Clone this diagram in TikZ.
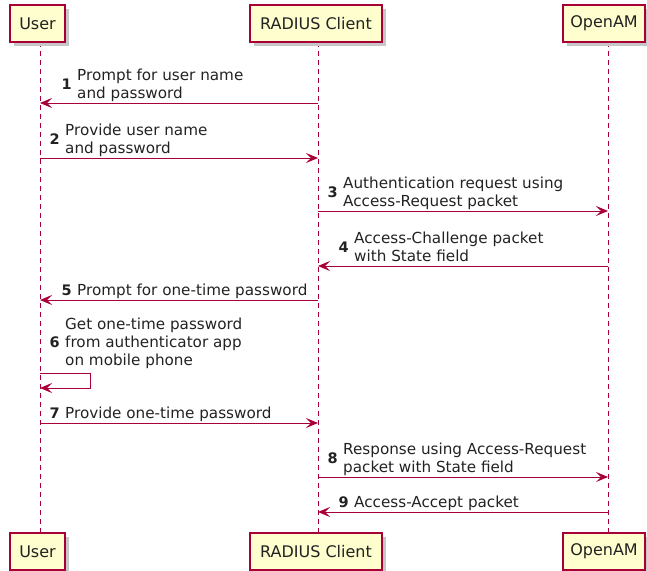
\documentclass[tikz,border=0pt]{standalone}
\usepackage{fontspec}
\newfontfamily\dv{DejaVu Sans}
\usetikzlibrary{arrows.meta,calc}
\definecolor{plborder}{HTML}{A80036}
\definecolor{plfill}{HTML}{FEFECE}
\definecolor{pltext}{HTML}{222222}
\tikzset{
  actor/.style={draw=plborder, fill=plfill, line width=1.2pt, minimum height=37pt, inner sep=0pt,
    font=\dv\fontsize{16}{19}\selectfont, text=pltext},
  shadowbox/.style={fill=black!22, draw=none},
  lifeline/.style={draw=plborder, line width=0.9pt, dash pattern=on 5pt off 4pt},
  msg/.style={draw=plborder, line width=1pt, -{Stealth[length=12pt,width=10pt,inset=5pt]}},
  msgtext/.style={font=\dv\fontsize{15.2}{18}\selectfont, text=pltext, align=left, inner sep=0pt, anchor=south west, yshift=-1.5pt},
  msgnum/.style={font=\dv\bfseries\fontsize{14.5}{18}\selectfont, text=pltext, inner sep=0pt, anchor=east}
}
\begin{document}
\begin{tikzpicture}[x=1pt,y=-1pt]
\useasboundingbox (0,0) rectangle (647,570);
% lifeline positions
\coordinate (xU) at (40,0);
\coordinate (xR) at (318,0);
\coordinate (xO) at (608,0);
% lifelines
\draw[lifeline] (xU |- 0,42) -- (xU |- 0,533);
\draw[lifeline] (xR |- 0,42) -- (xR |- 0,533);
\draw[lifeline] (xO |- 0,42) -- (xO |- 0,533);
% shadows
\fill[shadowbox] (14,9) rectangle (69,46);
\fill[shadowbox] (254,9) rectangle (386,46);
\fill[shadowbox] (567,9) rectangle (649,46);
\fill[shadowbox] (14,537) rectangle (69,574);
\fill[shadowbox] (254,537) rectangle (386,574);
\fill[shadowbox] (567,537) rectangle (649,574);
% participant boxes
\node[actor, minimum width=55pt] (uTop) at (37.5,23.5) {User};
\node[actor, minimum width=132pt] (rTop) at (316,23.5) {RADIUS Client};
\node[actor, minimum width=82pt] (oTop) at (604,23.5) {OpenAM};
\node[actor, minimum width=55pt] (uBot) at (37.5,551.5) {User};
\node[actor, minimum width=132pt] (rBot) at (316,551.5) {RADIUS Client};
\node[actor, minimum width=82pt] (oBot) at (604,551.5) {OpenAM};
% 1
\draw[msg] (xR |- 0,103) -- (xU |- 0,103);
\node[msgtext] (t1) at (77,103) {\strut Prompt for user name\\\strut and password};
\node[msgnum] (n1) at ([xshift=-5pt]t1.west) {\strut 1};
% 2
\draw[msg] (xU |- 0,158) -- (xR |- 0,158);
\node[msgtext] (t2) at (65,158) {\strut Provide user name\\\strut and password};
\node[msgnum] (n2) at ([xshift=-5pt]t2.west) {\strut 2};
% 3
\draw[msg] (xR |- 0,211) -- (xO |- 0,211);
\node[msgtext] (t3) at (343,211) {\strut Authentication request using\\\strut Access-Request packet};
\node[msgnum] (n3) at ([xshift=-5pt]t3.west) {\strut 3};
% 4
\draw[msg] (xO |- 0,266) -- (xR |- 0,266);
\node[msgtext] (t4) at (354,266) {\strut Access-Challenge packet\\\strut with State field};
\node[msgnum] (n4) at ([xshift=-5pt]t4.west) {\strut 4};
% 5
\draw[msg] (xR |- 0,300) -- (xU |- 0,300);
\node[msgtext] (t5) at (77,300) {\strut Prompt for one-time password};
\node[msgnum] (n5) at ([xshift=-5pt]t5.west) {\strut 5};
% 6 self message
\coordinate (s6a) at (90,373);
\coordinate (s6b) at (90,388);
\draw[msg] (xU |- 0,373) -- (s6a) -- (s6b) -- (xU |- 0,388);
\node[msgtext] (t6) at (65,370) {\strut Get one-time password\\\strut from authenticator app\\\strut on mobile phone};
\node[msgnum] (n6) at ([xshift=-5pt]t6.west) {\strut 6};
% 7
\draw[msg] (xU |- 0,423) -- (xR |- 0,423);
\node[msgtext] (t7) at (65,423) {\strut Provide one-time password};
\node[msgnum] (n7) at ([xshift=-5pt]t7.west) {\strut 7};
% 8
\draw[msg] (xR |- 0,477) -- (xO |- 0,477);
\node[msgtext] (t8) at (343,477) {\strut Response using Access-Request\\\strut packet with State field};
\node[msgnum] (n8) at ([xshift=-5pt]t8.west) {\strut 8};
% 9
\draw[msg] (xO |- 0,512) -- (xR |- 0,512);
\node[msgtext] (t9) at (354,512) {\strut Access-Accept packet};
\node[msgnum] (n9) at ([xshift=-5pt]t9.west) {\strut 9};
\end{tikzpicture}
\end{document}
